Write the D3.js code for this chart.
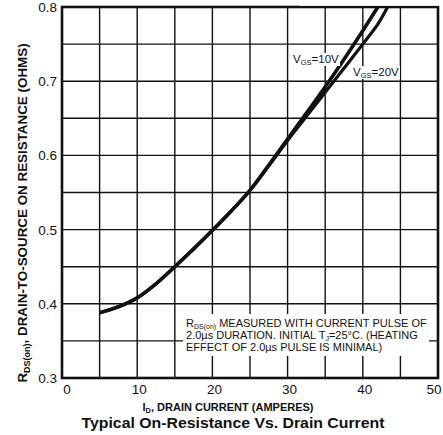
<!DOCTYPE html>
<html>
<head>
<meta charset="utf-8">
<script src="https://cdn.jsdelivr.net/npm/d3@7/dist/d3.min.js"></script>
<style>
html,body{margin:0;padding:0;background:#fff;}
svg{display:block;font-family:"Liberation Sans",Arial,Helvetica,sans-serif;}
</style>
</head>
<body>
<svg id="chart" width="443" height="435"></svg>
<script>
// ---- data ----
const current10 = [5, 7.5, 10, 12.5, 15, 17.5, 20, 22.5, 25, 27.5, 30, 32, 34, 36, 38, 40, 42];
const rds10 = [0.388, 0.396, 0.408, 0.427, 0.45, 0.474, 0.499, 0.525, 0.553, 0.587, 0.622, 0.65, 0.678, 0.707, 0.737, 0.768, 0.8];
const current20 = [5, 7.5, 10, 12.5, 15, 17.5, 20, 22.5, 25, 27.5, 30, 32, 34, 36, 38, 40, 42, 43.3];
const rds20 = [0.388, 0.396, 0.408, 0.427, 0.45, 0.474, 0.499, 0.525, 0.553, 0.586, 0.62, 0.646, 0.672, 0.698, 0.724, 0.75, 0.777, 0.8];
const xTicks = [0, 10, 20, 30, 40, 50];
const yTicks = [0.3, 0.4, 0.5, 0.6, 0.7, 0.8];
const xGrid = [0, 5, 10, 15, 20, 25, 30, 35, 40, 45, 50];
const yGrid = [0.3, 0.35, 0.4, 0.45, 0.5, 0.55, 0.6, 0.65, 0.7, 0.75, 0.8];
const noteLines = ["MEASURED WITH CURRENT PULSE OF", "2.0\u00b5s DURATION. INITIAL T", "EFFECT OF 2.0\u00b5s PULSE IS MINIMAL)"];

const svg = d3.select("#chart");
const x = d3.scaleLinear().domain([0, 50]).range([62, 438]);
const y = d3.scaleLinear().domain([0.3, 0.8]).range([378, 7]);
const ink = "#111";

// grid
const g = svg.append("g");
g.selectAll("line.v").data(xGrid).enter().append("line")
  .attr("x1", d => x(d)).attr("x2", d => x(d)).attr("y1", y(0.3)).attr("y2", y(0.8))
  .attr("stroke", ink).attr("stroke-width", 1.4);
g.selectAll("line.h").data(yGrid).enter().append("line")
  .attr("x1", x(0)).attr("x2", x(50)).attr("y1", d => y(d)).attr("y2", d => y(d))
  .attr("stroke", ink).attr("stroke-width", 1.4);

// note box background
svg.append("rect").attr("x", 183).attr("y", 314).attr("width", 246).attr("height", 42).attr("fill", "#fff");

// border
svg.append("rect").attr("x", x(0)).attr("y", y(0.8)).attr("width", x(50) - x(0)).attr("height", y(0.3) - y(0.8))
  .attr("fill", "none").attr("stroke", ink).attr("stroke-width", 2.6);

// curves
const line = d3.line().x(d => x(d[0])).y(d => y(d[1])).curve(d3.curveCatmullRom.alpha(0.5));
svg.append("path").datum(current10.map((c, i) => [c, rds10[i]])).attr("d", line)
  .attr("fill", "none").attr("stroke", ink).attr("stroke-width", 3.6).attr("stroke-linecap", "butt");
svg.append("path").datum(current20.map((c, i) => [c, rds20[i]])).attr("d", line)
  .attr("fill", "none").attr("stroke", ink).attr("stroke-width", 3.2).attr("stroke-linecap", "butt");

// clip curves above top border (white cover)
svg.append("rect").attr("x", 300).attr("y", 0).attr("width", 143).attr("height", y(0.8) - 1.3).attr("fill", "#fff");

// VGS labels
function vgsLabel(xp, yp, val) {
  svg.append("rect").attr("x", xp - 1).attr("y", yp - 10).attr("width", 48).attr("height", 13).attr("fill", "#fff");
  const t = svg.append("text").attr("x", xp).attr("y", yp).attr("font-size", 11.5).attr("fill", ink);
  t.append("tspan").text("V");
  t.append("tspan").attr("font-size", 7.5).attr("dy", 2).text("GS");
  t.append("tspan").attr("dy", -2).text("=" + val);
}
vgsLabel(293, 63, "10V");
vgsLabel(353, 76, "20V");

// tick labels
svg.selectAll("text.xt").data(xTicks).enter().append("text")
  .attr("x", d => x(d) + (d === 0 ? 5 : d === 50 ? -4 : 2)).attr("y", 394).attr("text-anchor", "middle")
  .attr("font-size", 13.5).attr("fill", ink).text(d => d);
svg.selectAll("text.yt").data(yTicks).enter().append("text")
  .attr("x", 57).attr("y", d => y(d) + 5).attr("text-anchor", "end")
  .attr("font-size", 13.5).attr("fill", ink).text(d => d.toFixed(1));

// note text
const nt = svg.append("g").attr("font-size", 11).attr("fill", ink);
const l1 = nt.append("text").attr("x", 186).attr("y", 327);
l1.append("tspan").text("R");
l1.append("tspan").attr("font-size", 7).attr("dy", 2).text("DS(on)");
l1.append("tspan").attr("dy", -2).text(" " + noteLines[0]);
const l2 = nt.append("text").attr("x", 186).attr("y", 339);
l2.append("tspan").text(noteLines[1]);
l2.append("tspan").attr("font-size", 7).attr("dy", 2).text("J");
l2.append("tspan").attr("dy", -2).text("=25\u00b0C. (HEATING");
nt.append("text").attr("x", 186).attr("y", 351).text(noteLines[2]);

// x axis title
const xt = svg.append("text").attr("x", 228).attr("y", 411).attr("text-anchor", "middle")
  .attr("font-size", 11).attr("font-weight", "bold").attr("fill", ink);
xt.append("tspan").text("I");
xt.append("tspan").attr("font-size", 7.5).attr("dy", 2).text("D");
xt.append("tspan").attr("dy", -2).text(", DRAIN CURRENT (AMPERES)");

// y axis title
const yt = svg.append("text").attr("transform", "translate(27,213) rotate(-90)").attr("text-anchor", "middle")
  .attr("font-size", 13.4).attr("font-weight", "bold").attr("fill", ink);
yt.append("tspan").text("R");
yt.append("tspan").attr("font-size", 9).attr("dy", 3).text("DS(on)");
yt.append("tspan").attr("dy", -3).text(", DRAIN-TO-SOURCE ON RESISTANCE (OHMS)");

// chart title
svg.append("text").attr("x", 233).attr("y", 428).attr("text-anchor", "middle")
  .attr("font-size", 15).attr("font-weight", "bold").attr("fill", ink)
  .attr("textLength", 303).attr("lengthAdjust", "spacingAndGlyphs")
  .text("Typical On-Resistance Vs. Drain Current");
</script>
</body>
</html>
